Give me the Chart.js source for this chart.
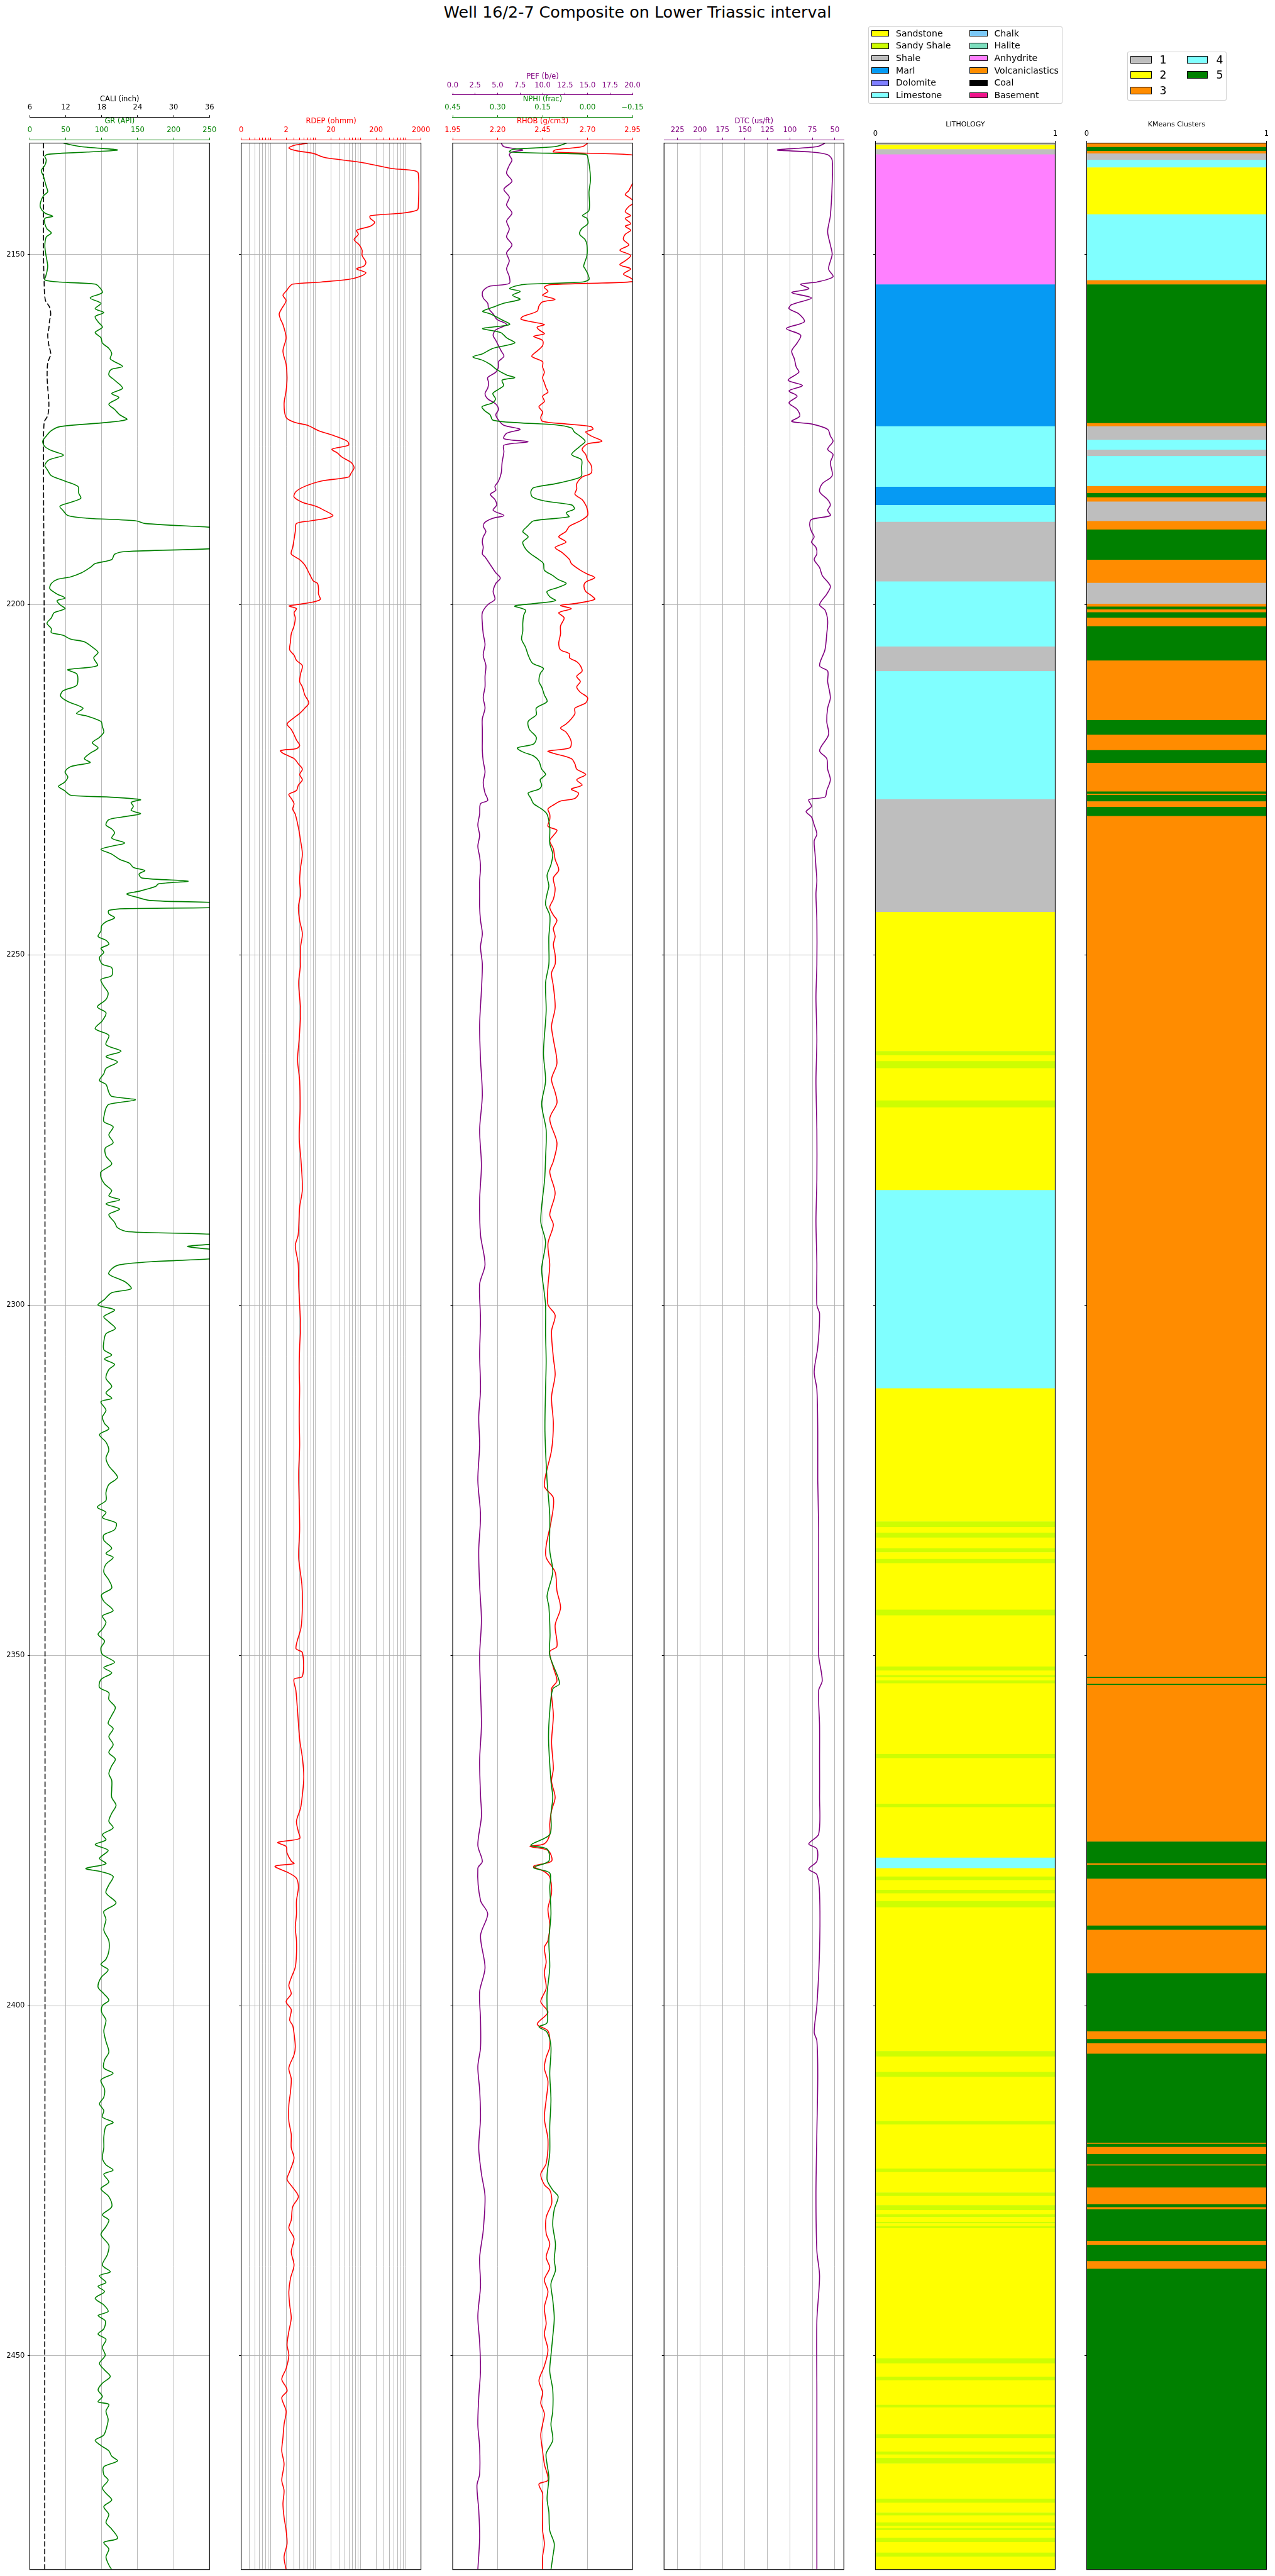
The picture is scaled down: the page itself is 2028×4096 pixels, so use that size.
<!DOCTYPE html>
<html>
<head>
<meta charset="utf-8">
<title>Well 16/2-7 Composite</title>
<script src="https://cdn.jsdelivr.net/npm/chart.js@4.4.1/dist/chart.umd.min.js"></script>
<style>
html, body { margin:0; padding:0; background:#ffffff; overflow:hidden; }
#wrap { position:relative; width:2028px; height:4096px; overflow:hidden; font-family:'DejaVu Sans', sans-serif; color:#000; }
#wrap canvas { position:absolute; top:0; }
#title { position:absolute; left:0; top:3.9px; width:2028px; text-align:center; font-size:25.4px; line-height:30px; white-space:nowrap; }
.legend { position:absolute; box-sizing:border-box; border:1px solid rgba(204,204,204,0.9); border-radius:3px; background:rgba(255,255,255,0.8); z-index:5; }
.sw { position:absolute; box-sizing:border-box; border:1px solid #000; z-index:6; }
.lt { position:absolute; white-space:nowrap; z-index:6; }
</style>
</head>
<body>
<div id="wrap"><div id="title">Well 16/2-7 Composite on Lower Triassic interval</div></div>
<script>
// ---------------- DATA ----------------
const DEPTH_MIN = 2134.1, DEPTH_MAX = 2480.5;
const DEPTH_TICKS = [2150, 2200, 2250, 2300, 2350, 2400, 2450];

const GR_TICKS = [0, 50, 100, 150, 200, 250];
const GR_LABELS = ['0', '50', '100', '150', '200', '250'];
const CALI_TICKS = [6, 12, 18, 24, 30, 36];
const CALI_LABELS = ['6', '12', '18', '24', '30', '36'];
const RDEP_MAJOR = [0.2, 2, 20, 200, 2000];
const RDEP_MAJOR_LABELS = ['0', '2', '20', '200', '2000'];
const RDEP_MINOR = [0.3,0.4,0.5,0.6,0.7,0.8,0.9, 3,4,5,6,7,8,9, 30,40,50,60,70,80,90, 300,400,500,600,700,800,900];
const RHOB_TICKS = [1.95, 2.20, 2.45, 2.70, 2.95];
const RHOB_LABELS = ['1.95', '2.20', '2.45', '2.70', '2.95'];
const NPHI_TICKS = [0.45, 0.30, 0.15, 0.00, -0.15];
const NPHI_LABELS = ['0.45', '0.30', '0.15', '0.00', '\u22120.15'];
const PEF_TICKS = [0, 2.5, 5, 7.5, 10, 12.5, 15, 17.5, 20];
const PEF_LABELS = ['0.0', '2.5', '5.0', '7.5', '10.0', '12.5', '15.0', '17.5', '20.0'];
const DTC_TICKS = [225, 200, 175, 150, 125, 100, 75, 50];
const DTC_LABELS = ['225', '200', '175', '150', '125', '100', '75', '50'];
const UNIT_TICKS = [0, 1];
const UNIT_LABELS = ['0', '1'];

// [depth, GR]
const GR_LOG = [[2134.13,47],[2134.62,72],[2135.08,122],[2135.38,80],[2135.68,27],[2135.95,21],[2136.52,23],[2137.27,21],[2138.03,16],[2138.79,19],[2139.55,21],[2140.30,23],[2141.06,25],[2141.63,19],[2142.58,15],[2143.33,15],[2144.09,21],[2144.55,32],[2144.85,21],[2145.61,21],[2146.36,24],[2146.93,30],[2147.50,23],[2148.64,21],[2149.77,22],[2150.91,24],[2151.67,25],[2152.42,24],[2153.18,22],[2153.64,21],[2153.94,42],[2154.24,91],[2154.70,97],[2155.45,101],[2156.21,84],[2156.97,99],[2157.73,91],[2158.30,103],[2158.86,91],[2159.62,95],[2160.38,101],[2161.14,91],[2161.89,99],[2162.65,101],[2163.41,110],[2164.17,114],[2164.92,112],[2165.98,129],[2166.44,113],[2167.20,110],[2167.95,118],[2169.09,129],[2169.85,114],[2170.42,124],[2171.36,110],[2172.12,118],[2172.88,125],[2173.56,135],[2174.02,103],[2174.58,42],[2175.15,30],[2175.91,23],[2176.67,18],[2177.42,21],[2177.99,30],[2178.64,47],[2179.32,27],[2180.08,21],[2180.83,25],[2181.59,30],[2182.35,49],[2183.11,67],[2184.05,68],[2184.81,71],[2185.38,57],[2185.95,42],[2186.52,46],[2187.27,53],[2187.65,80],[2188.03,148],[2188.41,160],[2188.98,255],[2189.6,320],[2190.6,330],[2191.5,300],[2192.0,255],[2192.42,133],[2192.80,118],
[2193.56,114],[2194.13,91],[2194.70,84],[2195.45,72],[2196.02,57],[2196.40,38],[2196.97,30],[2197.73,28],[2198.48,38],[2199.05,49],[2199.43,38],[2200.00,42],[2200.57,49],[2201.14,34],[2201.89,30],[2202.65,24],[2203.41,30],[2203.98,30],[2204.36,46],[2204.92,57],[2205.30,76],[2206.06,87],[2206.82,95],[2207.58,89],[2208.71,94],[2209.28,53],[2209.85,65],[2210.61,67],[2211.55,65],[2212.31,46],[2213.07,43],[2213.83,53],[2214.77,74],[2215.53,65],[2215.91,80],[2216.67,99],[2217.42,101],[2218.18,103],[2218.94,97],[2219.70,87],[2220.45,95],[2221.21,84],[2221.97,76],[2222.54,84],[2223.11,57],[2223.86,49],[2224.62,53],[2225.38,48],[2225.95,40],[2226.52,48],[2227.20,57],[2227.46,110],[2227.84,154],[2228.22,141],[2228.79,144],[2229.36,141],[2229.85,154],[2230.30,129],[2230.68,110],[2231.44,106],[2232.01,114],[2232.58,118],[2233.33,114],[2234.02,132],[2234.47,114],[2234.92,99],[2235.61,114],[2236.36,125],[2236.93,139],[2237.50,144],[2237.95,160],[2238.45,152],[2239.02,156],[2239.47,220],[2239.85,179],[2240.23,175],[2240.91,152],[2241.29,135],[2241.74,148],[2242.23,167],[2242.5,255],[2242.9,330],[2243.25,255],[2243.4,133],[2243.64,110],[2244.13,110],[2244.70,118],[2245.27,106],[2245.83,100],[2246.59,99],[2247.35,95],[2247.92,106],[2248.48,110],[2249.05,99],[2249.62,103],[2250.38,97],[2251.33,101],
[2251.82,114],[2252.95,114],[2253.52,99],[2254.47,103],[2255.42,109],[2256.36,106],[2257.42,94],[2258.26,106],[2259.39,101],[2260.53,91],[2261.48,110],[2262.80,106],[2263.75,127],[2264.51,106],[2265.27,122],[2266.21,106],[2266.97,103],[2267.92,97],[2268.48,106],[2269.62,110],[2270.19,114],[2270.68,147],[2271.33,110],[2271.89,106],[2272.65,104],[2273.79,103],[2274.55,116],[2275.68,110],[2276.82,116],[2277.58,105],[2278.71,106],[2279.85,114],[2280.98,99],[2281.74,99],[2282.69,104],[2283.64,114],[2284.39,110],[2284.96,125],[2285.53,106],[2286.29,125],[2287.05,110],[2288.18,118],[2288.94,122],[2289.51,137],[2289.89,255],[2290.7,330],[2291.59,220],[2292.05,255],[2292.7,330],[2293.37,255],[2293.79,171],[2294.24,125],[2294.81,114],[2295.57,110],[2296.70,133],[2297.65,141],[2298.22,114],[2299.17,104],[2300.00,95],[2300.68,118],[2301.63,103],[2302.39,110],[2303.33,119],[2304.09,106],[2305.23,103],[2306.36,103],[2307.12,114],[2307.69,104],[2308.45,118],[2309.20,110],
[2310.45,106],[2311.59,114],[2312.54,106],[2313.30,114],[2313.79,99],[2315.00,106],[2315.95,101],[2316.89,104],[2317.65,110],[2318.48,97],[2319.55,106],[2320.68,110],[2321.82,106],[2322.95,110],[2324.58,122],[2325.61,110],[2326.74,106],[2327.88,106],[2328.83,94],[2329.58,106],[2330.34,101],[2331.10,120],[2332.05,118],[2332.80,103],[2333.56,103],[2334.70,114],[2335.45,106],[2336.02,116],[2336.97,106],[2338.11,103],[2339.24,110],[2340.38,114],[2341.33,100],[2342.27,103],[2343.60,116],[2344.36,101],[2345.30,106],[2346.25,101],[2347.01,95],[2347.95,104],[2348.90,99],[2349.85,101],[2350.98,118],[2351.74,103],[2352.50,114],[2353.45,99],[2354.58,97],[2355.34,110],[2356.29,110],[2357.42,119],[2358.56,114],[2359.70,109],[2360.45,116],[2361.59,110],[2362.73,116],[2363.86,110],[2364.81,119],[2365.76,114],[2366.89,110],[2367.84,114],
[2369.13,114],[2370.27,114],[2371.40,120],[2372.54,114],[2373.67,110],[2374.62,116],[2375.57,101],[2376.33,106],[2377.01,91],[2377.84,109],[2378.98,97],[2379.73,106],[2380.42,78],[2380.87,99],[2381.55,116],[2382.77,110],[2383.90,106],[2385.34,120],[2386.55,103],[2387.69,106],[2389.20,103],[2390.72,110],[2392.23,110],[2393.37,106],[2394.13,99],[2394.89,109],[2396.02,99],[2397.35,95],[2398.30,103],[2399.24,110],[2400.00,101],[2400.95,100],[2402.08,106],[2403.60,103],[2405.11,106],[2406.63,110],[2407.77,104],[2408.90,103],[2409.66,116],[2410.61,99],[2411.93,104],[2413.07,103],[2414.02,97],[2414.96,103],[2415.91,101],[2416.67,116],[2417.23,106],[2418.75,103],[2420.27,103],[2421.78,101],[2422.73,106],[2423.48,116],[2424.05,103],[2425.19,110],[2426.14,99],[2427.27,110],
[2428.71,114],[2429.85,101],[2430.61,110],[2431.55,106],[2432.69,99],[2434.20,110],[2435.53,108],[2437.05,101],[2437.99,112],[2438.56,97],[2439.51,106],[2440.08,95],[2440.83,104],[2441.78,91],[2442.73,103],[2443.67,109],[2444.24,95],[2445.00,105],[2446.14,103],[2446.89,95],[2447.65,106],[2448.79,101],[2449.92,105],[2451.06,97],[2452.01,104],[2452.95,112],[2453.90,101],[2454.85,95],[2455.80,101],[2456.55,95],[2456.93,110],[2457.88,106],[2459.02,109],[2459.77,108],[2461.29,103],[2462.05,91],[2462.80,99],[2463.56,110],[2464.32,114],[2465.00,122],[2465.83,103],[2466.97,103],[2467.73,109],[2468.86,101],[2469.62,106],[2470.57,114],[2471.52,103],[2472.65,110],[2473.79,106],[2474.73,114],[2476.06,122],[2476.63,103],[2477.58,110],[2478.71,106],[2479.85,110],[2480.53,114]];

// [depth, CALI]
const CALI_LOG = [[2134.1,8.3],[2140,8.3],[2150,8.3],[2153.9,8.4],[2156.5,8.6],[2157.5,9.3],[2158.5,9.5],[2159.5,9.3],[2160.5,9.2],[2161.5,9.0],[2163.0,9.2],[2164.2,9.5],[2165.5,9.0],[2167.5,8.9],[2169.0,9.0],[2171.5,9.2],[2173.0,9.0],[2174.0,8.4],[2180,8.3],[2200,8.4],[2250,8.5],[2300,8.55],[2350,8.55],[2400,8.55],[2440,8.5],[2480.5,8.5]];

// [depth, RDEP]
const RDEP_LOG = [[2134.13,6.0],[2134.43,3.0],[2134.81,2.3],[2135.19,3.4],[2135.57,8.0],[2136.14,14],[2136.52,37],[2136.89,98],[2137.27,197],[2137.73,456],[2138.03,1390],[2138.41,1740],[2143.33,1740],[2143.71,1600],[2144.09,800],[2144.47,149],[2144.85,149],[2145.42,187],[2145.98,149],[2146.55,74],[2147.12,81],[2147.88,65],[2148.64,85],[2149.39,98],[2150.15,98],[2151.10,119],[2151.67,107],[2152.05,74],[2152.61,119],[2153.18,85],[2153.56,49],[2153.94,12],[2154.24,2.8],[2154.70,2.3],[2155.08,2.1],[2155.83,1.7],[2156.59,2.0],[2157.73,1.6],[2158.48,1.4],[2159.24,1.5],[2160.00,1.7],[2161.89,2.0],[2163.79,1.7],[2165.68,2.0],[2167.58,2.1],[2169.47,2.0],[2171.36,1.8],[2173.26,2.0],[2173.94,3.0],[2174.39,6.0],[2175.15,10.5],[2175.91,24],[2176.67,46],[2177.23,49],[2177.80,21],[2178.37,28],[2178.94,35],[2179.70,56],[2180.45,65],[2181.21,56],[2181.78,49],[2182.35,12],[2183.11,5.2],[2183.86,3.3],[2184.62,3.0],[2185.38,4.6],[2185.95,9.2],[2186.52,14],[2187.27,22],[2187.65,16],[2188.03,6.9],[2188.41,3.4],[2189.55,3.2],[2190.68,3.0],[2191.82,2.8],[2192.77,2.6],
[2193.56,4.0],[2194.32,5.2],[2195.08,6.0],[2195.83,6.9],[2196.59,8.0],[2196.97,10],[2197.73,10.5],[2198.48,10.5],[2199.24,11.5],[2199.62,8.0],[2200.00,3.4],[2200.19,2.3],[2200.57,3.4],[2201.14,3.0],[2201.89,3.2],[2203.03,3.0],[2204.17,2.6],[2205.30,2.5],[2206.44,2.4],[2207.20,3.0],[2207.95,3.4],[2208.71,4.6],[2209.85,4.2],[2210.98,4.0],[2211.74,4.6],[2212.88,5.2],[2214.02,6.4],[2214.77,5.2],[2215.53,4.0],[2216.29,2.8],[2217.05,2.1],[2217.80,2.6],[2218.56,3.0],[2219.32,3.4],[2220.08,4.0],[2220.53,3.4],[2220.83,1.5],[2221.21,1.7],[2221.97,3.0],[2222.73,3.75],[2223.48,4.6],[2224.24,4.0],[2225.00,4.6],[2225.76,3.75],[2226.52,3.4],[2227.08,2.3],[2227.65,2.6],[2228.41,3.0],[2229.17,2.8],[2229.92,3.2],[2231.82,3.75],[2233.71,4.2],[2235.61,4.6],[2237.50,4.2],[2239.39,4.0],[2241.29,4.2],[2243.18,3.75],[2245.08,4.0],[2246.97,4.6],[2248.86,4.2],[2251.33,4.2],
[2254,3.8],[2258,4.2],[2262,3.9],[2265,3.6],[2268,4.0],[2272,4.1],[2276,3.9],[2279.5,4.3],[2283.5,4.6],[2286,4.0],[2290,3.7],[2291.5,3.2],[2294,3.7],[2297,3.8],[2300,4.0],[2303,4.2],[2306,4.0],[2309,3.9],
[2312,4.0],[2316,3.9],[2320,4.0],[2324,3.8],[2328,3.9],[2332,4.0],[2336,3.8],[2340,4.5],[2343,4.6],[2346,4.3],[2349.0,3.3],[2349.6,4.6],[2353.0,4.6],[2353.4,3.0],[2355,3.3],[2358,3.6],[2362,4.0],[2364.6,4.6],[2367.3,4.95],
[2369.89,4.6],[2371.78,4.2],[2373.67,3.4],[2375.19,3.75],[2376.14,4.0],[2376.70,1.3],[2377.27,2.0],[2378.22,2.1],[2379.36,2.6],[2379.73,3.0],[2380.11,1.13],[2381.06,2.3],[2381.82,3.4],[2383.14,3.75],[2385.04,3.4],[2386.93,3.4],[2388.83,3.2],[2390.72,3.4],[2392.61,3.4],[2394.51,3.2],[2396.02,2.6],[2397.16,2.3],[2398.30,2.6],[2399.43,2.0],[2400.57,2.6],[2402.08,2.4],[2402.84,2.8],[2403.98,3.0],[2405.87,3.2],[2407.01,3.0],[2408.90,2.3],[2410.42,2.6],[2412.31,2.5],[2414.20,2.3],[2416.48,2.3],[2418.37,2.6],[2420.27,2.6],[2421.78,3.0],[2423.67,2.4],[2424.81,2.1],[2425.95,2.8],[2427.27,3.75],
[2428.71,2.8],[2430.61,2.6],[2431.74,2.3],[2433.26,3.0],[2435.15,2.6],[2437.05,3.0],[2438.94,2.5],[2440.83,2.3],[2442.73,2.4],[2444.62,2.6],[2446.52,2.3],[2448.41,2.1],[2449.92,2.3],[2451.82,2.0],[2453.33,1.6],[2454.47,2.0],[2455.04,2.1],[2455.98,1.6],[2457.88,2.0],[2459.77,1.8],[2461.67,1.7],[2463.56,1.6],[2465.45,1.8],[2467.73,1.6],[2469.24,1.8],[2471.14,1.7],[2473.03,1.8],[2474.92,2.0],[2476.82,2.1],[2478.71,1.8],[2480.53,2.0]];

// [depth, RHOB]
const RHOB_LOG = [[2134.13,2.70],[2134.62,2.67],[2135.08,2.52],[2135.38,2.51],[2135.76,2.94],[2136.14,2.97],[2138.03,2.98],[2140.87,2.93],[2141.44,2.91],[2142.01,2.94],[2142.58,2.96],[2143.14,2.93],[2143.90,2.91],[2144.47,2.94],[2144.85,2.91],[2145.61,2.94],[2145.98,2.91],[2146.55,2.94],[2147.12,2.91],[2147.88,2.90],[2148.64,2.93],[2149.39,2.88],[2150.15,2.94],[2150.91,2.91],[2151.48,2.88],[2152.05,2.94],[2152.80,2.90],[2153.37,2.94],[2153.86,2.96],[2154.13,2.70],[2154.32,2.49],[2154.70,2.46],[2155.27,2.48],[2155.83,2.45],[2156.40,2.52],[2156.78,2.45],[2157.35,2.43],[2158.11,2.42],[2158.86,2.34],[2159.24,2.33],[2159.62,2.39],[2160.00,2.46],[2160.38,2.42],[2160.76,2.43],[2161.33,2.46],[2161.70,2.40],[2162.27,2.45],[2163.03,2.45],[2163.79,2.42],[2164.55,2.39],[2165.30,2.45],[2166.06,2.45],[2166.82,2.46],[2167.58,2.45],[2168.33,2.46],[2169.09,2.47],[2169.66,2.48],[2170.23,2.45],[2170.98,2.46],[2171.74,2.43],[2172.50,2.45],[2173.26,2.44],[2173.83,2.45],[2174.20,2.58],[2174.58,2.72],[2174.96,2.73],[2175.34,2.69],[2175.91,2.72],[2176.67,2.78],[2177.05,2.70],[2177.80,2.67],[2178.56,2.69],[2179.32,2.70],[2180.08,2.72],[2181.21,2.72],[2181.78,2.67],[2182.73,2.64],[2183.48,2.64],[2184.24,2.63],[2185.00,2.67],[2185.76,2.69],[2186.52,2.70],[2187.27,2.70],[2188.03,2.66],[2188.79,2.60],[2189.55,2.58],[2190.30,2.54],[2191.06,2.58],[2191.82,2.52],[2192.58,2.56],
[2193.56,2.60],[2194.13,2.61],[2195.08,2.66],[2195.64,2.70],[2196.14,2.74],[2196.78,2.69],[2197.35,2.68],[2198.11,2.69],[2198.67,2.72],[2199.24,2.74],[2199.81,2.64],[2200.11,2.55],[2200.57,2.61],[2201.14,2.54],[2201.89,2.57],[2203.03,2.55],[2204.17,2.55],[2205.49,2.54],[2206.44,2.55],[2207.01,2.60],[2207.58,2.60],[2208.14,2.64],[2208.71,2.66],[2209.47,2.67],[2210.23,2.64],[2210.98,2.66],[2211.74,2.64],[2212.50,2.66],[2213.26,2.70],[2214.02,2.69],[2214.77,2.63],[2215.53,2.63],[2216.29,2.61],[2217.05,2.58],[2217.61,2.55],[2218.18,2.58],[2218.94,2.60],[2219.70,2.61],[2220.45,2.60],[2220.91,2.48],[2221.21,2.51],[2221.97,2.61],[2222.73,2.63],[2223.48,2.64],[2224.24,2.69],[2225.00,2.64],[2225.76,2.67],[2226.33,2.61],[2226.89,2.65],[2227.65,2.63],[2228.03,2.55],[2228.60,2.51],[2229.17,2.48],[2229.92,2.49],[2230.68,2.49],[2231.63,2.48],[2232.20,2.53],[2232.95,2.51],[2233.71,2.49],[2234.85,2.51],[2236.36,2.52],[2237.88,2.54],[2239.02,2.51],[2240.53,2.52],[2242.05,2.51],[2243.18,2.49],[2244.32,2.51],[2245.08,2.53],[2246.21,2.51],[2247.35,2.52],[2248.48,2.51],[2250.00,2.52],[2251.33,2.52],
[2252.58,2.50],[2254.47,2.51],[2257.50,2.52],[2260.15,2.50],[2262.05,2.51],[2265.45,2.53],[2267.73,2.50],[2269.62,2.52],[2271.14,2.53],[2273.41,2.49],[2276.82,2.53],[2279.47,2.51],[2280.98,2.49],[2284.02,2.52],[2287.05,2.49],[2288.56,2.51],[2291.21,2.48],[2294.24,2.49],[2297.27,2.48],[2299.92,2.48],[2301.44,2.52],[2303.71,2.50],[2307.50,2.51],[2309.96,2.52],
[2313.11,2.50],[2316.89,2.51],[2320.68,2.50],[2325.80,2.46],[2327.50,2.51],[2330.53,2.50],[2334.32,2.47],[2336.02,2.47],[2338.11,2.52],[2340.76,2.53],[2343.22,2.55],[2345.68,2.52],[2348.71,2.53],[2349.47,2.49],[2351.74,2.51],[2353.64,2.53],[2354.77,2.50],[2358.56,2.51],[2362.35,2.50],[2366.14,2.51],
[2367.99,2.50],[2370.27,2.52],[2372.16,2.50],[2374.05,2.49],[2375.57,2.49],[2376.89,2.46],[2377.27,2.38],[2377.84,2.48],[2379.36,2.50],[2380.11,2.40],[2380.87,2.46],[2381.63,2.49],[2383.90,2.50],[2386.17,2.48],[2388.45,2.49],[2390.72,2.48],[2391.67,2.46],[2393.75,2.47],[2395.27,2.46],[2397.54,2.47],[2399.43,2.44],[2400.95,2.48],[2402.65,2.42],[2403.60,2.48],[2405.87,2.49],[2407.39,2.47],[2408.90,2.46],[2410.80,2.48],[2413.45,2.47],[2416.10,2.46],[2419.13,2.48],[2422.54,2.47],[2424.05,2.44],[2425.57,2.46],[2426.33,2.49],[2427.27,2.50],
[2428.33,2.50],[2430.23,2.47],[2432.50,2.47],[2434.02,2.49],[2435.91,2.47],[2437.42,2.49],[2439.13,2.46],[2440.83,2.48],[2443.11,2.46],[2445.38,2.47],[2446.89,2.46],[2449.17,2.48],[2451.44,2.46],[2453.52,2.43],[2455.23,2.45],[2456.74,2.44],[2458.26,2.46],[2459.77,2.45],[2461.29,2.44],[2463.56,2.45],[2465.45,2.46],[2467.73,2.48],[2468.30,2.43],[2469.62,2.45],[2471.14,2.45],[2473.03,2.45],[2474.92,2.45],[2476.82,2.46],[2478.71,2.45],[2480.53,2.45]];

// [depth, NPHI]
const NPHI_LOG = [[2134.13,0.07],[2134.62,0.11],[2135.00,0.25],[2135.38,0.26],[2135.68,0.01],[2135.95,0.0],[2139.17,-0.01],[2141.06,-0.005],[2143.71,-0.005],[2144.47,0.017],[2144.85,0.002],[2145.61,-0.001],[2146.36,0.02],[2147.12,0.026],[2147.88,0.008],[2148.64,0.002],[2150.15,0.002],[2151.67,0.013],[2152.05,0.008],[2152.80,-0.001],[2153.56,-0.005],[2153.94,0.017],[2154.24,0.20],[2154.51,0.24],[2154.89,0.26],[2155.27,0.225],[2155.83,0.25],[2156.40,0.225],[2156.97,0.28],[2157.54,0.316],[2158.11,0.35],[2158.48,0.325],[2159.24,0.29],[2160.00,0.26],[2160.57,0.35],[2161.14,0.29],[2161.89,0.27],[2162.65,0.243],[2163.41,0.316],[2164.17,0.35],[2164.62,0.383],[2165.11,0.35],[2165.68,0.325],[2166.44,0.303],[2167.20,0.27],[2167.58,0.243],[2167.95,0.285],[2168.71,0.28],[2169.28,0.298],[2169.85,0.316],[2170.61,0.307],[2171.17,0.316],[2171.74,0.352],[2172.31,0.343],[2172.88,0.325],[2173.64,0.316],[2174.02,0.234],[2174.32,0.107],[2174.77,0.053],[2175.34,0.044],[2175.91,0.026],[2176.67,0.008],[2177.42,0.026],[2178.56,0.053],[2179.32,0.02],[2180.45,0.02],[2181.59,0.02],[2181.97,0.035],[2182.73,0.107],[2183.30,0.18],[2183.86,0.189],[2184.62,0.184],[2185.19,0.144],[2185.76,0.053],[2186.33,0.044],[2186.89,0.071],[2187.46,0.062],[2188.03,0.18],[2188.79,0.20],[2189.55,0.216],[2190.30,0.198],[2191.06,0.216],[2192.01,0.207],[2192.77,0.189],
[2193.56,0.162],[2194.13,0.147],[2195.08,0.144],[2195.83,0.116],[2196.40,0.098],[2196.97,0.071],[2197.54,0.098],[2198.11,0.135],[2198.86,0.126],[2199.43,0.107],[2199.81,0.171],[2200.19,0.243],[2200.76,0.207],[2201.52,0.213],[2202.65,0.216],[2203.79,0.216],[2204.92,0.220],[2206.06,0.207],[2207.20,0.198],[2208.33,0.184],[2209.09,0.147],[2209.85,0.158],[2210.98,0.162],[2211.74,0.153],[2212.88,0.144],[2213.83,0.135],[2214.77,0.171],[2215.72,0.171],[2216.67,0.198],[2217.80,0.194],[2218.94,0.171],[2219.89,0.180],[2220.45,0.234],[2221.02,0.216],[2221.59,0.180],[2222.35,0.162],[2223.48,0.153],[2224.24,0.140],[2225.00,0.158],[2225.76,0.153],[2226.33,0.162],[2226.89,0.198],[2227.65,0.189],[2228.41,0.180],[2229.17,0.153],[2229.92,0.135],[2231.82,0.126],[2234.09,0.126],[2235.61,0.116],[2237.12,0.122],[2238.64,0.135],[2240.15,0.129],[2241.29,0.135],[2242.80,0.140],[2244.32,0.126],[2245.83,0.126],[2247.35,0.129],[2248.86,0.129],[2251.33,0.129],
[2254,0.140],[2258,0.138],[2264,0.147],[2268,0.140],[2271.3,0.153],[2275,0.138],[2279,0.140],[2282,0.143],[2288,0.156],[2291,0.140],[2294.8,0.153],[2298,0.145],[2300,0.140],[2304,0.140],[2308,0.138],
[2312,0.140],[2318,0.142],[2325,0.135],[2330,0.126],[2335,0.126],[2338.1,0.116],[2341.5,0.135],[2343,0.129],[2347,0.125],[2350,0.126],[2354.0,0.093],[2354.8,0.116],[2358,0.126],[2362,0.130],[2367.99,0.122],
[2370.27,0.116],[2372.54,0.122],[2375.57,0.126],[2377.08,0.189],[2377.65,0.135],[2379.36,0.129],[2380.30,0.180],[2381.06,0.126],[2383.14,0.126],[2386.93,0.122],[2390.72,0.129],[2394.51,0.126],[2398.30,0.135],[2400.19,0.135],[2402.46,0.135],[2403.03,0.162],[2403.79,0.135],[2405.87,0.122],[2409.66,0.126],[2413.45,0.122],[2417.23,0.126],[2421.02,0.126],[2424.81,0.135],[2426.33,0.116],[2427.27,0.098],
[2429.09,0.111],[2431.36,0.116],[2434.02,0.107],[2436.29,0.111],[2437.80,0.107],[2439.70,0.122],[2441.97,0.116],[2444.62,0.111],[2447.27,0.116],[2449.92,0.122],[2452.20,0.126],[2454.85,0.116],[2457.88,0.116],[2459.77,0.122],[2462.05,0.116],[2463.94,0.138],[2465.45,0.135],[2467.35,0.129],[2470.38,0.135],[2472.27,0.129],[2474.92,0.126],[2476.82,0.111],[2478.71,0.116],[2480.53,0.122]];

// [depth, PEF]
const PEF_LOG = [[2134.13,5.4],[2134.62,5.7],[2135.08,7.8],[2135.38,6.6],[2135.76,6.3],[2136.52,6.6],[2137.27,6.3],[2138.41,6.0],[2139.55,6.6],[2140.68,5.7],[2141.82,6.3],[2142.95,6.0],[2144.09,6.6],[2145.23,6.0],[2146.36,6.3],[2147.50,6.0],[2148.64,6.6],[2149.77,6.0],[2150.91,6.3],[2152.05,6.0],[2153.18,6.3],[2154.13,6.3],[2154.51,4.2],[2154.89,3.6],[2155.45,3.3],[2156.21,3.4],[2156.97,3.9],[2157.73,4.0],[2158.48,4.5],[2159.24,4.9],[2160.00,6.0],[2160.76,4.8],[2161.52,4.5],[2162.27,4.8],[2163.03,5.1],[2163.79,5.4],[2164.55,5.7],[2165.30,5.1],[2166.06,5.1],[2166.82,4.8],[2167.58,3.9],[2168.33,4.0],[2169.09,3.9],[2169.85,3.6],[2170.61,3.9],[2171.36,4.8],[2172.12,5.1],[2172.88,4.8],[2173.64,5.1],[2174.39,5.7],[2174.96,7.5],[2175.53,6.0],[2176.29,5.7],[2176.74,8.4],[2177.23,5.7],[2178.18,5.7],[2179.70,5.5],[2181.21,5.4],[2182.35,5.1],[2183.11,4.7],[2183.67,4.8],[2184.24,4.2],[2185.00,4.7],[2185.76,4.9],[2186.52,4.5],[2187.27,5.7],[2187.65,4.5],[2188.22,3.6],[2188.79,3.4],[2189.55,3.7],[2190.30,3.4],[2191.06,3.3],[2191.82,3.4],[2192.77,3.3],
[2193.18,3.6],[2194.32,4.2],[2195.45,4.8],[2196.21,5.3],[2196.97,4.8],[2198.11,4.5],[2199.24,4.7],[2200.00,3.9],[2201.14,3.3],[2202.65,3.3],[2204.17,3.4],[2205.68,3.6],[2207.20,3.4],[2208.71,3.7],[2210.23,3.6],[2211.74,3.6],[2213.26,3.4],[2214.77,3.6],[2216.29,3.3],[2217.80,3.3],[2219.32,3.3],[2220.83,3.3],[2222.35,3.4],[2223.86,3.6],[2225.38,3.4],[2226.89,3.6],[2227.95,3.9],[2228.41,3.1],[2229.92,3.0],[2231.44,2.8],[2232.95,3.0],[2234.47,2.8],[2235.98,3.0],[2237.50,3.1],[2239.39,3.0],[2241.29,3.0],[2243.18,3.0],[2245.08,3.1],[2246.97,3.3],[2248.86,3.1],[2251.33,3.3],
[2255,3.2],[2260,3.0],[2265,3.1],[2270,3.3],[2275,3.0],[2280,3.2],[2285,3.0],[2290,3.1],[2294.2,3.6],[2297,3.0],[2302,3.1],[2307,3.0],[2312,3.1],[2316,2.9],[2320,3.0],[2325,2.8],[2330,3.1],[2335,2.9],[2340,3.0],[2345,3.2],[2350,3.0],[2355,3.1],[2360,3.2],[2365,3.0],[2370,3.1],[2373,3.2],[2377.1,2.8],[2379.4,3.3],[2380.4,2.8],[2385,3.1],[2386.9,3.9],[2390,3.1],[2394.6,3.6],[2398,3.0],[2402,3.1],[2406,3.1],[2408.7,2.8],[2412,3.0],[2416,3.1],[2420.3,2.9],[2424,3.2],[2427.2,3.6],[2432.1,3.4],[2436,3.0],[2440,3.1],[2444.3,2.8],[2448,3.0],[2452,3.1],[2456,2.9],[2459.8,2.8],[2463,3.0],[2466.9,3.0],[2468.5,2.7],[2472,2.9],[2476,3.0],[2480.5,2.8]];

// [depth, DTC]
const DTC_LOG = [[2134.13,61],[2134.62,70],[2135.08,114],[2135.38,76],[2135.76,58],[2136.52,53],[2140,53],[2144.47,55],[2146.74,58],[2148.64,55],[2150,53],[2152.05,57],[2153.18,52],[2153.94,70],[2154.24,88],[2154.89,79],[2155.45,98],[2156.21,76],[2157.16,98],[2157.73,101],[2158.48,90],[2159.62,84],[2160.57,104],[2161.52,88],[2162.65,92],[2163.79,98],[2164.92,95],[2166.06,93],[2166.82,90],[2167.95,102],[2168.71,86],[2169.47,101],[2170.23,92],[2171.17,101],[2172.12,92],[2173.07,89],[2173.83,98],[2174.20,76],[2174.96,58],[2175.91,55],[2176.67,52],[2177.80,58],[2178.56,52],[2179.70,55],[2181.59,53],[2182.73,64],[2183.86,67],[2185.00,58],[2185.76,55],[2186.52,58],[2187.27,55],[2187.84,76],[2188.60,78],[2189.55,76],[2190.30,73],[2191.06,76],[2191.82,71],[2192.77,70],
[2193.56,73],[2194.70,67],[2195.83,64],[2197.35,55],[2198.48,59],[2200.00,67],[2200.76,61],[2202.27,58],[2204.17,59],[2206.44,61],[2208.71,67],[2209.47,58],[2210.98,58],[2213.26,55],[2214.77,58],[2216.67,59],[2218.56,57],[2220.83,67],[2221.97,59],[2223.48,58],[2225.00,55],[2226.52,59],[2227.46,61],[2227.84,79],[2228.79,76],[2229.55,82],[2230.30,76],[2231.44,73],[2232.77,70],[2233.71,73],[2235.61,72],[2237.50,71],[2239.39,70],[2241.29,71],[2245.08,70],[2251.33,70],
[2256,71],[2262,70],[2268,71],[2275,70],[2282,70],[2288,71],[2294,70],[2300,70],[2301.2,67],[2306,69],[2309.5,73],[2312,70],[2318,69],[2325,69],[2332,68],[2338,68],[2344,68],[2350,68],[2353.6,64],[2355,68],[2360,67],[2365,67],[2370,67],[2375.5,68],[2376.9,79],[2377.6,70],[2379.4,70],[2380.5,79],[2381.3,70],[2384,67],[2392,67],[2400,70],[2403.8,73],[2405,70],[2410,69],[2418,70],[2427,71],[2435,70],[2438.6,67],[2445,70],[2455,70],[2465,70],[2475,70],[2480.5,70]];

// [top, base, lithology]
const LITH_INTERVALS = [[2134.1,2134.35,'Shale'],[2134.35,2135.0,'Sandstone'],[2135.0,2135.75,'Shale'],[2135.75,2154.3,'Anhydrite'],[2154.3,2174.55,'Marl'],[2174.55,2183.2,'Limestone'],[2183.2,2185.8,'Marl'],[2185.8,2188.2,'Limestone'],[2188.2,2196.7,'Shale'],[2196.7,2206.0,'Limestone'],[2206.0,2209.5,'Shale'],[2209.5,2227.8,'Limestone'],[2227.8,2243.9,'Shale'],[2243.9,2263.75,'Sandstone'],[2263.75,2264.35,'Sandy Shale'],[2264.35,2265.2,'Sandstone'],[2265.2,2266.2,'Sandy Shale'],[2266.2,2270.8,'Sandstone'],[2270.8,2271.8,'Sandy Shale'],[2271.8,2283.6,'Sandstone'],[2283.6,2311.9,'Limestone'],[2311.9,2330.9,'Sandstone'],[2330.9,2331.7,'Sandy Shale'],[2331.7,2332.5,'Sandstone'],[2332.5,2333.2,'Sandy Shale'],[2333.2,2334.75,'Sandstone'],[2334.75,2335.3,'Sandy Shale'],[2335.3,2336.25,'Sandstone'],[2336.25,2336.85,'Sandy Shale'],[2336.85,2343.5,'Sandstone'],[2343.5,2344.3,'Sandy Shale'],[2344.3,2351.6,'Sandstone'],[2351.6,2352.2,'Sandy Shale'],[2352.2,2352.85,'Sandstone'],[2352.85,2353.15,'Sandy Shale'],[2353.15,2353.6,'Sandstone'],[2353.6,2354.0,'Sandy Shale'],[2354.0,2364.1,'Sandstone'],[2364.1,2364.7,'Sandy Shale'],[2364.7,2371.2,'Sandstone'],[2371.2,2371.7,'Sandy Shale'],[2371.7,2378.9,'Sandstone'],[2378.9,2380.4,'Limestone'],[2380.4,2381.6,'Sandstone'],[2381.6,2382.1,'Sandy Shale'],[2382.1,2383.5,'Sandstone'],[2383.5,2384.0,'Sandy Shale'],[2384.0,2385.1,'Sandstone'],[2385.1,2386.0,'Sandy Shale'],[2386.0,2406.5,'Sandstone'],[2406.5,2407.3,'Sandy Shale'],[2407.3,2409.5,'Sandstone'],[2409.5,2410.2,'Sandy Shale'],[2410.2,2416.5,'Sandstone'],[2416.5,2417.0,'Sandy Shale'],[2417.0,2423.3,'Sandstone'],[2423.3,2423.8,'Sandy Shale'],[2423.8,2426.7,'Sandstone'],[2426.7,2427.2,'Sandy Shale'],[2427.2,2428.5,'Sandstone'],[2428.5,2429.2,'Sandy Shale'],[2429.2,2429.8,'Sandstone'],[2429.8,2430.2,'Sandy Shale'],[2430.2,2430.9,'Sandstone'],[2430.9,2431.1,'Sandy Shale'],[2431.1,2431.5,'Sandstone'],[2431.5,2431.8,'Sandy Shale'],[2431.8,2450.4,'Sandstone'],[2450.4,2451.1,'Sandy Shale'],[2451.1,2453.0,'Sandstone'],[2453.0,2453.5,'Sandy Shale'],[2453.5,2457.0,'Sandstone'],[2457.0,2457.4,'Sandy Shale'],[2457.4,2461.2,'Sandstone'],[2461.2,2461.8,'Sandy Shale'],[2461.8,2463.7,'Sandstone'],[2463.7,2464.1,'Sandy Shale'],[2464.1,2464.6,'Sandstone'],[2464.6,2465.4,'Sandy Shale'],[2465.4,2470.4,'Sandstone'],[2470.4,2471.0,'Sandy Shale'],[2471.0,2472.4,'Sandstone'],[2472.4,2472.8,'Sandy Shale'],[2472.8,2473.8,'Sandstone'],[2473.8,2474.3,'Sandy Shale'],[2474.3,2474.6,'Sandstone'],[2474.6,2474.9,'Sandy Shale'],[2474.9,2476.0,'Sandstone'],[2476.0,2476.6,'Sandy Shale'],[2476.6,2478.1,'Sandstone'],[2478.1,2478.7,'Sandy Shale'],[2478.7,2480.5,'Sandstone']];

// [top, base, cluster]
const CLUSTER_INTERVALS = [[2134.1,2134.7,3],[2134.7,2135.25,5],[2135.25,2135.6,3],[2135.6,2136.5,1],[2136.5,2137.6,4],[2137.6,2144.3,2],[2144.3,2153.7,4],[2153.7,2154.3,3],[2154.3,2174.1,5],[2174.1,2174.55,3],[2174.55,2176.5,1],[2176.5,2177.9,4],[2177.9,2178.8,1],[2178.8,2183.1,4],[2183.1,2184.1,3],[2184.1,2184.7,5],[2184.7,2185.3,3],[2185.3,2188.1,1],[2188.1,2189.3,3],[2189.3,2193.6,5],[2193.6,2196.9,3],[2196.9,2199.9,1],[2199.9,2200.3,3],[2200.3,2200.7,5],[2200.7,2201.1,3],[2201.1,2201.9,5],[2201.9,2203.1,3],[2203.1,2208.0,5],[2208.0,2216.5,3],[2216.5,2218.6,5],[2218.6,2220.8,3],[2220.8,2222.6,5],[2222.6,2226.7,3],[2226.7,2227.0,5],[2227.0,2227.2,3],[2227.2,2228.1,5],[2228.1,2228.9,3],[2228.9,2230.2,5],[2230.2,2353.1,3],[2353.1,2353.25,5],[2353.25,2354.1,3],[2354.1,2354.25,5],[2354.25,2376.6,3],[2376.6,2379.7,5],[2379.7,2379.9,3],[2379.9,2381.9,5],[2381.9,2388.6,3],[2388.6,2389.2,5],[2389.2,2395.4,3],[2395.4,2403.7,5],[2403.7,2404.8,3],[2404.8,2405.4,5],[2405.4,2406.9,3],[2406.9,2419.6,5],[2419.6,2419.75,3],[2419.75,2420.2,5],[2420.2,2421.2,3],[2421.2,2422.7,5],[2422.7,2422.85,3],[2422.85,2426.0,5],[2426.0,2428.4,3],[2428.4,2428.8,5],[2428.8,2429.1,3],[2429.1,2433.6,5],[2433.6,2434.2,3],[2434.2,2436.5,5],[2436.5,2437.6,3],[2437.6,2480.5,5]];

const LITH_NAMES = ['Sandstone','Sandy Shale','Shale','Marl','Dolomite','Limestone','Chalk','Halite','Anhydrite','Volcaniclastics','Coal','Basement'];
const CLUSTER_NAMES = [1, 2, 3, 4, 5];

// ---------------- STYLE ----------------
const LITH_COLORS = {'Sandstone':'#ffff00','Sandy Shale':'#cdfd02','Shale':'#bebebe','Marl':'#069af3','Dolomite':'#7f7fff','Limestone':'#80ffff','Chalk':'#7bc8f6','Halite':'#7ddfbe','Anhydrite':'#ff80ff','Volcaniclastics':'#ff8c00','Coal':'#000000','Basement':'#ef138a'};
const CLUSTER_COLORS = {1:'#bebebe', 2:'#ffff00', 3:'#ff8c00', 4:'#80ffff', 5:'#008000'};
const GREEN = '#008000', RED = '#ff0000', PURPLE = '#800080', BLACK = '#000000', GRIDC = '#b0b0b0';
const FONT = "'DejaVu Sans'";
Chart.defaults.font.family = FONT;

const CT = 227.5, CB = 4085.7, CAN_H = 4140;
const TRACK_L = [47.3, 383.6, 720.0, 1056.2, 1392.4, 1728.4];
const TRACK_W = 286.0;
const MARGIN = 47, WY = 42, CAN_W = 381;
const TL = 3.4, AX_H = 35.6, SP_H = 5.3;

const wrap = document.getElementById('wrap');

const framePlugin = {
  id: 'frame',
  afterDatasetsDraw(chart) {
    const a = chart.chartArea, ctx = chart.ctx;
    ctx.save();
    ctx.strokeStyle = '#000';
    ctx.lineWidth = 1.1;
    ctx.strokeRect(a.left, a.top, a.right - a.left, a.bottom - a.top);
    ctx.restore();
  }
};

function depthAxis(showLabels) {
  return {
    type: 'linear', position: 'left', min: DEPTH_MIN, max: DEPTH_MAX, reverse: true, offset: false,
    afterFit: s => { s.width = WY; },
    afterBuildTicks: s => { s.ticks = DEPTH_TICKS.map(v => ({value: v})); },
    ticks: { display: showLabels, color: BLACK, font: {family: FONT, size: 11.5}, padding: 4.5, autoSkip: false,
             callback: v => String(v) },
    grid: { display: true, drawOnChartArea: true, offset: false, color: GRIDC, lineWidth: 0.9, drawTicks: true,
            tickLength: TL, tickColor: BLACK, tickWidth: 1 },
    border: { display: false }
  };
}

function spacerAxis() {
  return {
    type: 'linear', position: 'top', weight: 0, offset: false,
    afterFit: s => { s.height = SP_H; },
    ticks: { display: false }, grid: { display: false }, border: { display: false }, title: { display: false }
  };
}

function topAxis(o) {
  return {
    type: o.type || 'linear', position: 'top', min: o.min, max: o.max, reverse: !!o.reverse,
    weight: o.weight, offset: false,
    afterFit: s => { s.height = AX_H; },
    afterBuildTicks: s => { s.ticks = o.ticks.map(v => ({value: v})); },
    ticks: { autoSkip: false, maxRotation: 0, minRotation: 0, padding: o.pad || 5.0, color: o.color,
             font: {family: FONT, size: 11.5}, callback: (v, i) => o.labels[i] },
    grid: { display: true, drawOnChartArea: !!o.grid, offset: false, color: GRIDC, lineWidth: 0.9, drawTicks: true,
            tickLength: TL, tickColor: o.color, tickWidth: 1 },
    border: { display: true, color: o.color, width: 1.1 },
    title: { display: true, text: o.title, color: o.color, font: {family: FONT, size: o.titleSize || 11.5},
             padding: {top: 0, bottom: 0} }
  };
}

function curve(pairs, color, axisId, dash) {
  return {
    data: pairs.map(p => ({x: p[1], y: p[0]})),
    xAxisID: axisId, yAxisID: 'y', showLine: true, fill: false,
    borderColor: color, borderWidth: 1.6, borderDash: dash || [],
    pointRadius: 0, pointHoverRadius: 0, tension: 0.3, clip: 0
  };
}

function buildChart(i, type, scales, datasets, topSum, labels) {
  const canvasLeft = Math.floor(TRACK_L[i] - MARGIN);
  const cv = document.createElement('canvas');
  cv.width = CAN_W; cv.height = CAN_H;
  cv.style.left = canvasLeft + 'px';
  wrap.appendChild(cv);
  const areaLeft = TRACK_L[i] - canvasLeft;
  return new Chart(cv, {
    type: type,
    data: { labels: labels || [], datasets: datasets },
    options: {
      responsive: false, animation: false, events: [],
      layout: { autoPadding: false, padding: { left: areaLeft - WY, right: CAN_W - areaLeft - TRACK_W, top: CT - topSum, bottom: CAN_H - CB } },
      plugins: { legend: { display: false }, tooltip: { enabled: false }, title: { display: false } },
      scales: scales
    },
    plugins: [framePlugin]
  });
}

// Track 1: GR + CALI
buildChart(0, 'scatter', {
  y: depthAxis(true),
  sp: spacerAxis(),
  gr: topAxis({min: 0, max: 250, ticks: GR_TICKS, labels: GR_LABELS, color: GREEN, title: 'GR (API)', weight: 1, grid: true}),
  cali: topAxis({min: 6, max: 36, ticks: CALI_TICKS, labels: CALI_LABELS, color: BLACK, title: 'CALI (inch)', weight: 2})
}, [
  curve(GR_LOG, GREEN, 'gr'),
  curve(CALI_LOG, BLACK, 'cali', [8.5, 3.7])
], SP_H + 2 * AX_H);

// Track 2: RDEP (log)
const RDEP_TICKS = RDEP_MAJOR.concat(RDEP_MINOR).sort((a, b) => a - b);
const RDEP_LABELS = RDEP_TICKS.map(v => { const k = RDEP_MAJOR.indexOf(v); return k >= 0 ? RDEP_MAJOR_LABELS[k] : ''; });
buildChart(1, 'scatter', {
  y: depthAxis(false),
  sp: spacerAxis(),
  rdep: topAxis({type: 'logarithmic', min: 0.2, max: 2000, ticks: RDEP_TICKS, labels: RDEP_LABELS, color: RED, title: 'RDEP (ohmm)', weight: 1, grid: true})
}, [
  curve(RDEP_LOG, RED, 'rdep')
], SP_H + AX_H);

// Track 3: RHOB + NPHI + PEF
buildChart(2, 'scatter', {
  y: depthAxis(false),
  sp: spacerAxis(),
  rhob: topAxis({min: 1.95, max: 2.95, ticks: RHOB_TICKS, labels: RHOB_LABELS, color: RED, title: 'RHOB (g/cm3)', weight: 1, grid: true}),
  nphi: topAxis({min: -0.15, max: 0.45, reverse: true, ticks: NPHI_TICKS, labels: NPHI_LABELS, color: GREEN, title: 'NPHI (frac)', weight: 2}),
  pef: topAxis({min: 0, max: 20, ticks: PEF_TICKS, labels: PEF_LABELS, color: PURPLE, title: 'PEF (b/e)', weight: 3})
}, [
  curve(NPHI_LOG, GREEN, 'nphi'),
  curve(RHOB_LOG, RED, 'rhob'),
  curve(PEF_LOG, PURPLE, 'pef')
], SP_H + 3 * AX_H);

// Track 4: DTC
buildChart(3, 'scatter', {
  y: depthAxis(false),
  sp: spacerAxis(),
  dtc: topAxis({min: 40, max: 240, reverse: true, ticks: DTC_TICKS, labels: DTC_LABELS, color: PURPLE, title: 'DTC (us/ft)', weight: 1, grid: true})
}, [
  curve(DTC_LOG, PURPLE, 'dtc')
], SP_H + AX_H);

// Tracks 5-6: lithology and clusters as floating bars
function intervalTrack(i, intervals, colors, title) {
  buildChart(i, 'bar', {
    y: depthAxis(false),
    xc: { type: 'category', display: false, offset: true },
    xt: topAxis({min: 0, max: 1, ticks: UNIT_TICKS, labels: UNIT_LABELS, color: BLACK, title: title, weight: 1, pad: 4.3, titleSize: 11})
  }, [{
    data: intervals.map(r => ({x: 'L', y: [r[0], r[1]]})),
    backgroundColor: intervals.map(r => colors[r[2]]),
    borderWidth: 0, barPercentage: 1, categoryPercentage: 1,
    xAxisID: 'xc', yAxisID: 'y'
  }], AX_H, ['L']);
}
intervalTrack(4, LITH_INTERVALS, LITH_COLORS, 'LITHOLOGY');
intervalTrack(5, CLUSTER_INTERVALS, CLUSTER_COLORS, 'KMeans Clusters');

// ---------------- LEGENDS (HTML) ----------------
function addDiv(cls, css, text) {
  const d = document.createElement('div');
  d.className = cls;
  Object.assign(d.style, css);
  if (text !== undefined) d.textContent = text;
  wrap.appendChild(d);
  return d;
}
function legend(box, names, colors, rowsPerCol, swX, txtX, rowY, swW, swH, fs, lh) {
  addDiv('legend', {left: box[0] + 'px', top: box[1] + 'px', width: box[2] + 'px', height: box[3] + 'px'});
  names.forEach((n, k) => {
    const col = Math.floor(k / rowsPerCol), row = k % rowsPerCol;
    const cy = rowY[row];
    addDiv('sw', {left: swX[col] + 'px', top: (cy - swH / 2) + 'px', width: swW + 'px', height: swH + 'px', background: colors[n]});
    addDiv('lt', {left: txtX[col] + 'px', top: (cy - lh / 2) + 'px', fontSize: fs + 'px', lineHeight: lh + 'px'}, String(n));
  });
}
legend([1381.2, 41.8, 308.8, 123.0], LITH_NAMES, LITH_COLORS, 6,
       [1385.6, 1542.0], [1425.0, 1581.4], [53.0, 72.8, 92.6, 112.1, 131.9, 151.6], 28.9, 9.8, 14.1, 17);
legend([1792.9, 82.0, 157.7, 77.7], CLUSTER_NAMES, CLUSTER_COLORS, 3,
       [1798.0, 1887.5], [1844.4, 1934.5], [95.1, 119.4, 143.7], 33.5, 12.2, 17.3, 20);
</script>
</body>
</html>
